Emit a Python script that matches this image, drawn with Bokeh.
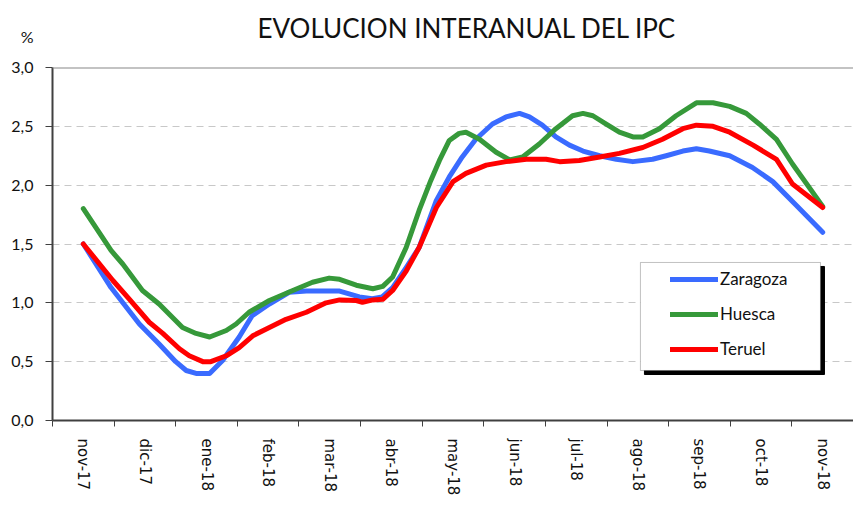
from bokeh.plotting import figure
from bokeh.layouts import column
from bokeh.models import (Range1d, FixedTicker, CustomJSTickFormatter, Span, Legend,
                          LegendItem, BoxAnnotation, Label)
from bokeh.embed import file_html
from bokeh.resources import INLINE

# ---- data ----
months = ["nov-17", "dic-17", "ene-18", "feb-18", "mar-18", "abr-18", "may-18",
          "jun-18", "jul-18", "ago-18", "sep-18", "oct-18", "nov-18"]

zar_t = [0, 0.45, 0.91, 1.23, 1.50, 1.67, 1.83, 2.05, 2.26, 2.53, 2.74, 3.02, 3.34, 3.62,
         4.16, 4.48, 4.69, 4.85, 5.02, 5.24, 5.45, 5.73, 5.94, 6.15, 6.37, 6.64, 6.86, 7.08,
         7.24, 7.45, 7.67, 7.89, 8.11, 8.38, 8.65, 8.92, 9.24, 9.46, 9.73, 9.95, 10.16,
         10.49, 10.86, 11.19, 11.57, 12]
zar_v = [1.50, 1.13, 0.82, 0.65, 0.50, 0.425, 0.40, 0.40, 0.51, 0.71, 0.89, 0.99, 1.09, 1.10,
         1.10, 1.05, 1.035, 1.05, 1.13, 1.30, 1.47, 1.87, 2.07, 2.24, 2.39, 2.52, 2.58, 2.61,
         2.58, 2.51, 2.41, 2.34, 2.29, 2.25, 2.22, 2.20, 2.22, 2.25, 2.29, 2.31, 2.29,
         2.25, 2.15, 2.03, 1.83, 1.60]

hue_t = [0, 0.45, 0.64, 0.96, 1.23, 1.61, 1.83, 2.05, 2.32, 2.48, 2.69, 3.02, 3.40, 3.72,
         3.99, 4.16, 4.43, 4.70, 4.86, 5.02, 5.24, 5.45, 5.64, 5.78, 5.94, 6.10, 6.21, 6.43,
         6.70, 6.92, 7.13, 7.40, 7.67, 7.94, 8.11, 8.27, 8.48, 8.70, 8.92, 9.08, 9.35, 9.62,
         9.95, 10.22, 10.49, 10.76, 10.97, 11.25, 11.51, 12]
hue_v = [1.80, 1.445, 1.33, 1.105, 0.99, 0.79, 0.74, 0.71, 0.765, 0.82, 0.92, 1.02, 1.105, 1.175,
         1.21, 1.20, 1.15, 1.12, 1.14, 1.22, 1.47, 1.785, 2.04, 2.21, 2.38, 2.44, 2.45, 2.39,
         2.28, 2.215, 2.24, 2.35, 2.48, 2.59, 2.61, 2.59, 2.52, 2.45, 2.41, 2.41, 2.48, 2.59,
         2.70, 2.70, 2.67, 2.61, 2.52, 2.39, 2.18, 1.82]

ter_t = [0, 0.48, 0.75, 1.07, 1.29, 1.56, 1.72, 1.94, 2.07, 2.32, 2.53, 2.75, 3.02, 3.29,
         3.62, 3.94, 4.16, 4.43, 4.53, 4.70, 4.86, 5.02, 5.24, 5.45, 5.73, 6.0, 6.21, 6.54,
         6.86, 7.19, 7.51, 7.73, 8.05, 8.38, 8.70, 9.08, 9.40, 9.73, 9.95, 10.22, 10.49,
         10.87, 11.25, 11.51, 12]
ter_v = [1.50, 1.19, 1.03, 0.835, 0.74, 0.61, 0.55, 0.50, 0.50, 0.55, 0.62, 0.72, 0.79, 0.86,
         0.92, 1.00, 1.025, 1.02, 1.005, 1.025, 1.03, 1.105, 1.27, 1.47, 1.81, 2.03, 2.10, 2.17,
         2.20, 2.22, 2.22, 2.20, 2.21, 2.24, 2.27, 2.32, 2.39, 2.48, 2.51, 2.50, 2.45,
         2.34, 2.22, 2.01, 1.81]

series_names = ["Zaragoza", "Huesca", "Teruel"]
series_colors = ["#3A6BFF", "#36993A", "#FF0000"]
y_ticks = [0, 0.5, 1.0, 1.5, 2.0, 2.5, 3.0]
title_text = "EVOLUCION INTERANUAL DEL IPC"
unit_text = "%"

# ---- header (title and unit) ----
head = figure(width=853, height=57, output_backend="svg", toolbar_location=None,
              x_range=Range1d(52, 853), y_range=Range1d(0, 43),
              min_border_left=52, min_border_right=0, min_border_top=14, min_border_bottom=0,
              outline_line_color=None,
              background_fill_color="white", border_fill_color="white")
head.xaxis.visible = False
head.grid.visible = False
head.yaxis.ticker = FixedTicker(ticks=[])
head.yaxis.axis_line_color = None
head.yaxis.major_tick_out = 0
head.yaxis.major_tick_in = 0
head.yaxis.minor_tick_line_color = None
head.yaxis.major_label_text_font_size = "0px"
head.yaxis.axis_label = unit_text
head.yaxis.axis_label_orientation = "horizontal"
head.yaxis.axis_label_text_font = "Lato"
head.yaxis.axis_label_text_font_size = "16px"
head.yaxis.axis_label_text_font_style = "normal"
head.yaxis.axis_label_text_color = "#111111"
head.yaxis.axis_label_standoff = 19
head.add_layout(Label(x=257, y=30, text=title_text, text_font="Lato", text_font_size="26px",
                      text_align="left", text_baseline="alphabetic", text_color="#111111"))

# ---- main figure ----
p = figure(frame_width=801, frame_height=353, output_backend="svg", toolbar_location=None,
           x_range=Range1d(-0.5, 12.5), y_range=Range1d(0, 3),
           min_border_left=52, min_border_right=0, min_border_top=10, min_border_bottom=87,
           background_fill_color="white", border_fill_color="white", outline_line_color=None)

# axes
p.yaxis.ticker = FixedTicker(ticks=y_ticks)
p.yaxis.formatter = CustomJSTickFormatter(code="return tick.toFixed(1).replace('.', ',');")
p.yaxis.major_label_text_font = "Lato"
p.yaxis.major_label_text_font_size = "16px"
p.yaxis.major_label_text_color = "#111111"
p.yaxis.major_tick_out = 7
p.yaxis.major_tick_in = 0
p.yaxis.minor_tick_line_color = None
p.yaxis.axis_line_color = "#404040"
p.yaxis.axis_line_width = 2
p.yaxis.major_tick_line_color = "#404040"
p.yaxis.major_label_standoff = 12

p.xaxis.ticker = FixedTicker(ticks=list(range(len(months))),
                             minor_ticks=[i - 0.5 for i in range(len(months) + 1)])
p.xaxis.formatter = CustomJSTickFormatter(args=dict(labels=months),
                                          code="const i = Math.round(tick); return (i >= 0 && i < labels.length) ? labels[i] : '';")
p.xaxis.major_label_orientation = "vertical"
p.xaxis.major_label_text_font = "DejaVu Sans"
p.xaxis.major_label_text_font_size = "15px"
p.xaxis.major_label_text_color = "#111111"
p.xaxis.major_tick_out = 0
p.xaxis.major_tick_in = 0
p.xaxis.minor_tick_out = 6
p.xaxis.minor_tick_in = 0
p.xaxis.minor_tick_line_color = "#404040"
p.xaxis.minor_tick_line_width = 1
p.xaxis.axis_line_color = "#404040"
p.xaxis.axis_line_width = 2
p.xaxis.major_label_standoff = 12

p.xgrid.grid_line_color = None
p.ygrid.ticker = FixedTicker(ticks=y_ticks)
p.ygrid.grid_line_color = "#C8C8C8"
p.ygrid.grid_line_dash = "7 5"
p.ygrid.grid_line_width = 1

p.add_layout(Span(location=3.0, dimension="width", line_color="#888888", line_width=2))

# lines
renderers = []
for t, v, c in zip([zar_t, hue_t, ter_t], [zar_v, hue_v, ter_v], series_colors):
    r = p.line(t, v, line_color=c, line_width=5, line_cap="round", line_join="round")
    renderers.append(r)

# legend box with shadow
p.add_layout(BoxAnnotation(left=9.107, right=12.029, bottom=0.391, top=1.309,
                           fill_color="black", fill_alpha=1, line_color="black", line_alpha=1,
                           level="annotation"))
p.add_layout(BoxAnnotation(left=9.042, right=11.964, bottom=0.425, top=1.343,
                           fill_color="white", fill_alpha=1, line_color="#333333", line_width=1,
                           level="annotation"))

legend = Legend(items=[LegendItem(label=n, renderers=[r]) for n, r in zip(series_names, renderers)],
                location=(618, 61), padding=0, margin=0, spacing=14, label_height=20,
                glyph_height=20, glyph_width=48, label_standoff=2,
                border_line_alpha=0, background_fill_alpha=0,
                label_text_font="Lato", label_text_font_size="17px", label_text_color="#111111")
p.add_layout(legend)

layout = column(head, p, spacing=0)
open("out.html", "w").write(file_html(layout, INLINE))
